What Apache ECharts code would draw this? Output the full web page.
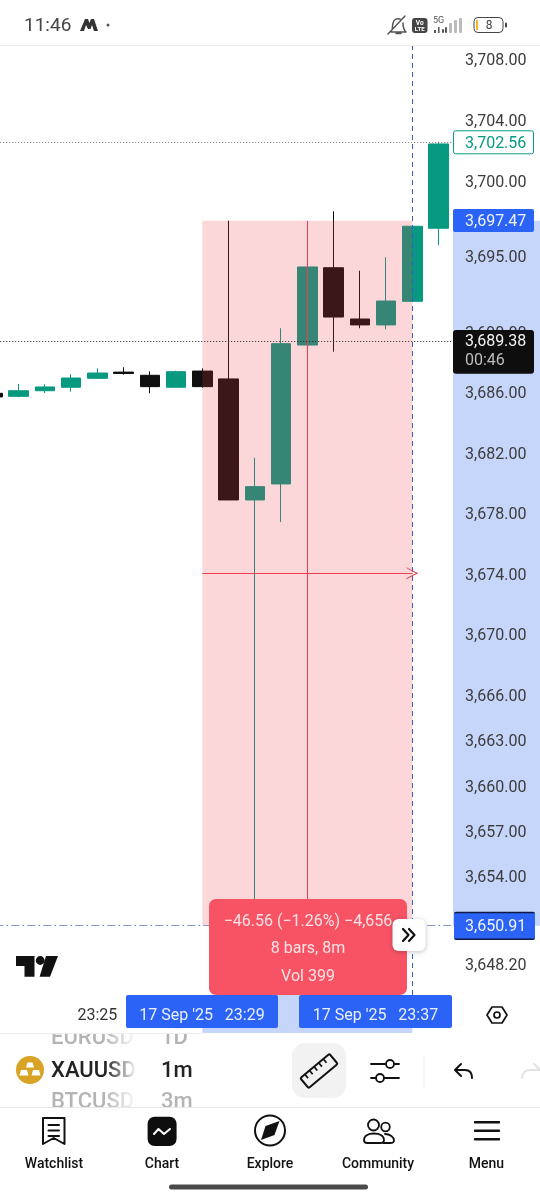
<!DOCTYPE html>
<html><head><meta charset="utf-8">
<style>html,body{margin:0;padding:0;background:#fff}#c{width:540px;height:1200px}</style>
<script src="https://cdn.jsdelivr.net/npm/echarts@6/dist/echarts.min.js"></script>
</head><body><div id="c"></div>
<script>
const minutes = ['23:21','23:22','23:23','23:24','23:25','23:26','23:27','23:28','23:29','23:30','23:31','23:32','23:33','23:34','23:35','23:36','23:37','23:38'];
// open, close, low, high
const ohlc = [
 [3685.97,3685.73,3685.71,3686.00],
 [3685.77,3686.14,3685.71,3686.59],
 [3686.14,3686.39,3685.99,3686.57],
 [3686.37,3686.98,3686.08,3687.23],
 [3686.96,3687.31,3686.92,3687.62],
 [3687.37,3687.28,3687.20,3687.69],
 [3687.16,3686.41,3685.97,3687.42],
 [3686.37,3687.40,3686.37,3687.46],
 [3687.44,3686.41,3686.34,3687.62],
 [3686.92,3678.92,3678.92,3697.38],
 [3678.92,3679.80,3650.78,3681.71],
 [3679.98,3689.25,3677.46,3690.27],
 [3689.16,3694.32,3687.51,3694.40],
 [3694.27,3691.01,3688.72,3698.00],
 [3690.88,3690.49,3690.27,3694.07],
 [3690.49,3692.07,3690.20,3694.96],
 [3692.05,3697.01,3692.00,3697.05],
 [3696.88,3702.45,3695.77,3702.60]
];
const yTicks = [3708,3704,3700,3695,3690,3686,3682,3678,3674,3670,3666,3663,3660,3657,3654,3648.2];
const xTickLabel = '23:25';
const measureFrom = '23:29', measureTo = '23:37', measureMid = '23:33';
const measureTop = 3697.47, measureBottom = 3650.91;   // printed values
const measureTopDrawn = 3697.38, measureBottomDrawn = 3650.78; // where the drawing tool sits on the scale
const lastPrice = 3702.56, crossPrice = 3689.38;
const yMin = 3646.2, yMax = 3708.925;
const countdown = '00:46';
const startLabel = "17 Sep '25   23:29", endLabel = "17 Sep '25   23:37";
const statLines = ['\u221246.56 (\u22121.26%) \u22124,656','8 bars, 8m','Vol 399'];
const navItems = ['Watchlist','Chart','Explore','Community','Menu'];

const UP='#089981', DOWN='#0f0f0f', FONT='Roboto, sans-serif';
const fmt = v => v.toLocaleString('en-US',{minimumFractionDigits:2,maximumFractionDigits:2});
const chart = echarts.init(document.getElementById('c'),null,{renderer:'canvas'});
const arrow = 'path://M0 12 L10 0 L20 12 L18.5 12 L10 2.5 L1.5 12 Z';
const RED='#e8404f';
const overlay=(markLine)=>({type:'line',data:[],silent:true,z:8,showSymbol:false,markLine:Object.assign({silent:true,z:7,symbol:['none','none'],label:{show:false},animation:false},markLine)});
const midY=(measureTopDrawn+measureBottomDrawn)/2;
chart.setOption({
 animation:false,backgroundColor:'#fff',
 grid:{left:-20.8,top:46,width:472.5,height:949,outerBoundsMode:'none'},
 xAxis:{type:'category',data:minutes,boundaryGap:true,axisLine:{show:false},axisTick:{show:false},splitLine:{show:false},
  axisLabel:{interval:(i,v)=>v===xTickLabel,margin:13,fontSize:16,fontFamily:FONT,color:'#333',hideOverlap:false}},
 yAxis:{type:'value',position:'right',min:yMin,max:yMax,scale:true,axisLine:{show:false},axisTick:{show:false},splitLine:{show:false},
  axisLabel:{customValues:yTicks,formatter:v=>'{a|'+fmt(v)+'}',margin:13.4,align:'left',
   rich:{a:{fontSize:16,fontFamily:FONT,color:'#3c3c3c',padding:[3,0,0,0]}}}},
 series:[{type:'candlestick',data:ohlc,barWidth:20,
  itemStyle:{color:UP,color0:DOWN,borderColor:UP,borderColor0:DOWN,borderWidth:1},
  markArea:{silent:true,z:6,itemStyle:{color:'rgba(242,54,69,0.2)'},
   data:[[{xAxis:measureFrom,yAxis:measureTopDrawn},{xAxis:measureTo,yAxis:measureBottomDrawn}]]}},
  overlay({lineStyle:{color:'#777',type:[1,2],width:1},data:[{yAxis:lastPrice}]}),
  overlay({lineStyle:{color:'#222',type:[1,2],width:1},data:[{yAxis:crossPrice}]}),
  overlay({lineStyle:{color:'#8496c8',type:[8,3,2,3],width:1},data:[{yAxis:measureBottomDrawn}]}),
  overlay({lineStyle:{color:'#3a5ad0',type:[5,4],width:1},data:[{xAxis:measureTo}]}),
  overlay({lineStyle:{color:RED,type:'solid',width:1},data:[[{xAxis:measureMid,yAxis:measureTopDrawn},{xAxis:measureMid,yAxis:measureBottomDrawn}]]}),
  overlay({lineStyle:{color:RED,type:'solid',width:1},symbol:['none',arrow],symbolSize:12,data:[[{xAxis:measureFrom,yAxis:midY},{xAxis:measureTo,yAxis:midY}]]})
 ]
});
const py = v => chart.convertToPixel({yAxisIndex:0},v);
const px = c => chart.convertToPixel({xAxisIndex:0},c);
const g = [];
let pid=0;
const shape=(d)=>{const n='p'+(pid++);echarts.graphic.registerShape(n,echarts.graphic.extendPath(d));return n;};
const rect=(x,y,w,h,fill,r,z,extra)=>g.push(Object.assign({type:'rect',silent:true,z:z==null?50:z,shape:{x,y,width:w,height:h,r:r||0},style:{fill}},extra||{}));
const text=(x,y,t,fill,font,align,z)=>g.push({type:'text',silent:true,z:z==null?60:z,x,y:y+1.5,style:{text:t,fill,font:font||('16px '+FONT),textAlign:align||'left',textVerticalAlign:'middle'}});
const stroke=(d,c,w,z)=>g.push({type:shape(d),silent:true,z:z==null?60:z,style:{fill:'none',stroke:c||'#111',lineWidth:w||2,lineJoin:'round',lineCap:'round'}});
const fillp=(d,c,z)=>g.push({type:shape(d),silent:true,z:z==null?60:z,style:{fill:c||'#111'}});
const circle=(x,y,r,fill,st,lw,z)=>g.push({type:'circle',silent:true,z:z==null?60:z,shape:{cx:x,cy:y,r},style:{fill:fill||'none',stroke:st,lineWidth:lw||0}});

const yt=py(measureTopDrawn), yb=py(measureBottomDrawn), xf=px(measureFrom), xt=px(measureTo);
const BAND='#c6d6fb', BLUE='#2b63f6';
rect(453,yt,87,yb-yt,BAND,0,-1);
rect(xf,995,xt-xf,38,BAND,0,-1);
rect(453.5,py(lastPrice)-11.5,80,23,'#fff',2,40,{style:{fill:'#fff',stroke:UP,lineWidth:1}});
text(465,py(lastPrice),fmt(lastPrice),UP,'16px '+FONT);
rect(453,yt-11.7,81,23,BLUE,2);
text(465,yt-0.5,fmt(measureTop),'#eef2ff','16px '+FONT);
rect(453,py(crossPrice)-11.7,81,43.7,'#0e0e0e',3);
text(465,py(crossPrice)-1,fmt(crossPrice),'#f2f2f2','16px '+FONT);
text(465,py(crossPrice)+18,countdown,'#bdbdbd','16px '+FONT);
rect(454,yb-14,81,28.3,'#0d1b45',2);
rect(454,yb-12.5,81,25.3,BLUE,0);
text(465,yb-0.5,fmt(measureBottom),'#eef2ff','16px '+FONT);
rect(126,995,152,33,BLUE,2);
rect(299,995,153,33,BLUE,2);
text(202,1014.5,startLabel,'#e9efff','16px '+FONT,'center');
text(375.5,1014.5,endLabel,'#e9efff','16px '+FONT,'center');
rect(209,899,198,96,'#f85365',7);
statLines.forEach((t,i)=>text(308,[920,947,975][i],t,'#fde3e6','16px '+FONT,'center'));
rect(392.5,919,33,32,'#fff',6,62,{style:{fill:'#fff',shadowBlur:5,shadowColor:'rgba(0,0,0,0.25)',shadowOffsetY:1}});
stroke('M403 929 L408.5 935 L403 941 M409 929 L414.5 935 L409 941','#111',2.2,63);
fillp('M16 956 H34.5 V976.7 H24.5 V966 H16 Z M46 956 H58 L50 976.7 H39.6 Z');
circle(40.2,960.5,4.4,'#111');
stroke('M487 1015 L492 1007 H502 L507 1015 L502 1023 H492 Z','#111',1.7);
circle(497,1015,3,'none','#111',1.7);
rect(0,0,540,45,'#fff',0,70);
rect(0,45,540,1,'#efefef',0,70);
text(24,25,'11:46','#444','19px '+FONT,'left',71);
fillp('M80 31 L85 19 H88 L89.5 23 L91 19 H94 L98 31 H94 L92 25 L90.5 29 H88 L86 25 L84 31 Z','#333',71);
circle(108,25,1.5,'#555',null,0,71);
stroke('M391 32 C393 30 392 27 393 23 C394 19 397 18 400 19 M403 23 C403 27 404 30 406 32 H391 M396 33.5 H401 M388 34 L405 16','#555',1.5,71);
rect(412,18,15.5,15,'#444',3,71);
text(419.7,21.5,'Vo','#fff','bold 6.5px '+FONT,'center',72);
text(419.7,27.5,'LTE','#fff','bold 6px '+FONT,'center',72);
text(433,19.5,'5G','#555','9px '+FONT,'left',71);
fillp('M434 30 H436 V33 H434 Z M438 27 H439.5 V33 H438 Z','#555',71);
[[442,29,2,4,'#555'],[445,27,2,6,'#555'],[449,23,3,10,'#bbb'],[454,20,3,13,'#bbb'],[459,18,3,15,'#bbb']].forEach(b=>rect(b[0],b[1],b[2],b[3],b[4],1,71));
rect(474,17.5,29,15,'#fff',4,71,{style:{fill:'#fff',stroke:'#444',lineWidth:1}});
rect(476,20,2,10,'#f0b429',0,72);
text(489,24,'8','#444','12px '+FONT,'center',72);
rect(505,22.5,2,5,'#444',1,71);
rect(0,1034,540,73,'#fff',0,1);
text(51,1037,'EURUSD','#b4b4b4','500 22px '+FONT,'left',60);
text(161,1037,'1D','#b4b4b4','500 22px '+FONT,'left',60);
text(51,1100.5,'BTCUSD','#b4b4b4','500 22px '+FONT,'left',60);
text(161,1100.5,'3m','#b4b4b4','500 22px '+FONT,'left',60);
rect(40,1024,86,10,'#fff',0,61);
rect(126,1028.3,75,5.7,'#fff',0,61);
rect(0,1033,202,1,'#eee',0,61);
text(51,1070,'XAUUSD','#222','500 22px '+FONT,'left',60);
text(161,1070,'1m','#222','500 22px '+FONT,'left',60);
g.push({type:'rect',silent:true,z:61,shape:{x:105,y:1034,width:32,height:73},style:{fill:{type:'linear',x:0,y:0,x2:1,y2:0,colorStops:[{offset:0,color:'rgba(255,255,255,0)'},{offset:1,color:'#fff'}]}}});
circle(30,1070,14,'#d9a326');
fillp('M27.5 1062.5 H32.5 L34 1067.5 H26 Z M21 1070 H27 L28.5 1075.5 H19.5 Z M33 1070 H39 L40.5 1075.5 H31.5 Z','#fff',61);
rect(292,1043,54,55,'#f2f2f2',13);
g.push({type:'group',x:319,y:1071,rotation:Math.PI*0.22,z:60,silent:true,children:[
 {type:'rect',z:60,shape:{x:-19,y:-6.5,width:38,height:13,r:1.5},style:{fill:'none',stroke:'#111',lineWidth:2}},
 ...[-13,-7,-1,5,11].map(x=>({type:'line',z:60,shape:{x1:x,y1:-6.5,x2:x,y2:-1.5},style:{stroke:'#111',lineWidth:1.7}}))
]});
stroke('M371 1064 H385.5 M394 1064 H399 M371 1078 H376 M384.5 1078 H399','#111',1.8);
circle(390,1064,4,'none','#111',1.8);
circle(380,1078,4,'none','#111',1.8);
rect(423.5,1055,1,33,'#eee');
stroke('M461 1064 L455 1070 L461 1076 M456 1070 H465 C469.5 1070 472 1073 472 1078','#111',2);
stroke('M534 1064 L540 1070 M539 1070 H530 C525.5 1070 522 1073 522 1078','#e2e2e2',2);
rect(0,1107,540,93,'#fff',0,62);
rect(0,1107,540,1,'#e8e8e8',0,62);
const NZ=63;
stroke('M43 1118 H64.5 V1144 L53.7 1138 L43 1144 Z M48.5 1125 H59 M48.5 1130.5 H59 M48.5 1136 H59','#111',2,NZ);
rect(147.6,1116.7,29,29.3,'#0e0e0e',7,NZ);
stroke('M154 1134 L158.5 1129 L164 1134 L170 1129','#fff',2,NZ+1);
circle(270,1130.5,15,'none','#111',2,NZ);
fillp('M279.5 1121 L274.5 1135 L261 1140 L265.5 1126 Z','#111',NZ);
circle(373.5,1125,5.5,'none','#111',1.8,NZ);
circle(385.5,1127,4.3,'none','#111',1.8,NZ);
stroke('M364 1140 C364 1136 368 1133.5 374 1133.5 C380 1133.5 384 1136 384 1140 C384 1142.5 382 1143 380 1143 H367 C365 1143 364 1142 364 1140 Z M385 1134 C390 1134 394 1137 394 1140.5 C394 1142.5 392 1143 390 1143 H383','#111',1.8,NZ);
stroke('M475 1122.3 H499 M475 1130.7 H499 M475 1139.3 H499','#111',2.4,NZ);
[54,162,270,378,486.5].forEach((x,i)=>text(x,1162.5,navItems[i],'#111','500 14px '+FONT,'center',NZ));
rect(169,1184.5,199,5,'#4a4a4a',2.5,NZ);
chart.setOption({graphic:{elements:g}});
</script></body></html>
